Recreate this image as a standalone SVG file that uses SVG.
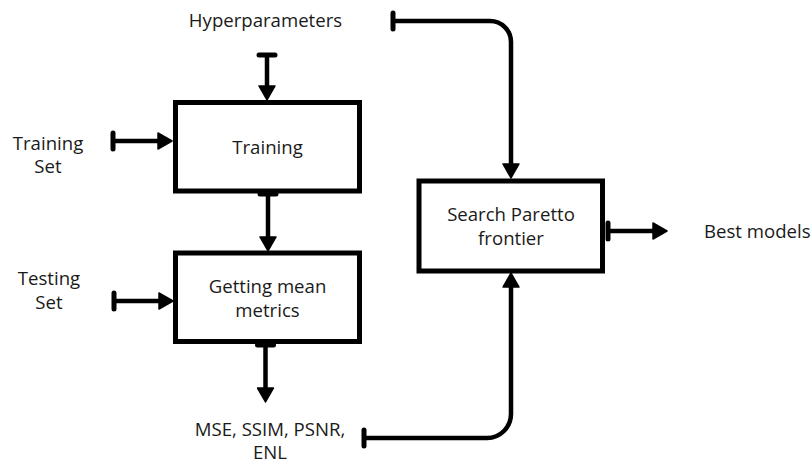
<svg xmlns="http://www.w3.org/2000/svg" width="812" height="463" viewBox="0 0 812 463">
<style>
.box{fill:#fff;stroke:#000;stroke-width:5}
.t{font-family:"Open Sans","Noto Sans",sans-serif;font-size:18.6px;fill:#1a1a1a;text-anchor:middle}
.s{text-anchor:start}
.c{fill:none;stroke:#000;stroke-width:4.5;marker-start:url(#tee);marker-end:url(#arr)}
</style>
<defs>
<marker id="arr" markerUnits="userSpaceOnUse" markerWidth="16" markerHeight="18" viewBox="0 0 16 18" refX="9" refY="9" orient="auto">
<path d="M1,1 L15,9 L1,17 z" fill="#000" stroke="#000" stroke-width="1.5" stroke-linejoin="round"/>
</marker>
<marker id="tee" markerUnits="userSpaceOnUse" markerWidth="8" markerHeight="22" viewBox="0 0 8 22" refX="4" refY="11" orient="auto">
<line x1="4" y1="3" x2="4" y2="19" stroke="#000" stroke-width="5" stroke-linecap="round"/>
</marker>
</defs>
<g id="connectors">
<path class="c" d="M393,21 H490 A21,21 0 0 1 511,42 V172"/>
<path class="c" d="M267,55 V94"/>
<path class="c" d="M113,141 H166"/>
<path class="c" d="M268,194 V245"/>
<path class="c" d="M114,301 H167"/>
<path class="c" d="M265.5,345 V396"/>
<path class="c" d="M608,231 H661"/>
<path class="c" d="M364,438 H487 A24,24 0 0 0 511,414 V279"/>
</g>
<g id="training">
<rect class="box" x="175.5" y="102.5" width="184" height="88.5"/>
<text class="t" x="267.5" y="154">Training</text>
</g>
<g id="getting-mean-metrics">
<rect class="box" x="175.5" y="253" width="184" height="88.5"/>
<text class="t" x="267.5" y="293">Getting mean</text>
<text class="t" x="267.5" y="317">metrics</text>
</g>
<g id="search-paretto">
<rect class="box" x="419" y="181" width="183.5" height="90"/>
<text class="t" x="511" y="221">Search Paretto</text>
<text class="t" x="511" y="245">frontier</text>
</g>
<g id="hyperparameters">
<text class="t" x="265.5" y="27">Hyperparameters</text>
</g>
<g id="training-set">
<text class="t" x="48" y="150">Training</text>
<text class="t" x="48" y="173">Set</text>
</g>
<g id="testing-set">
<text class="t" x="49" y="285">Testing</text>
<text class="t" x="49" y="309">Set</text>
</g>
<g id="metrics-out">
<text class="t" x="270" y="436">MSE, SSIM, PSNR,</text>
<text class="t" x="270" y="459">ENL</text>
</g>
<g id="best-models">
<text class="t s" x="704" y="238">Best models</text>
</g>
</svg>
